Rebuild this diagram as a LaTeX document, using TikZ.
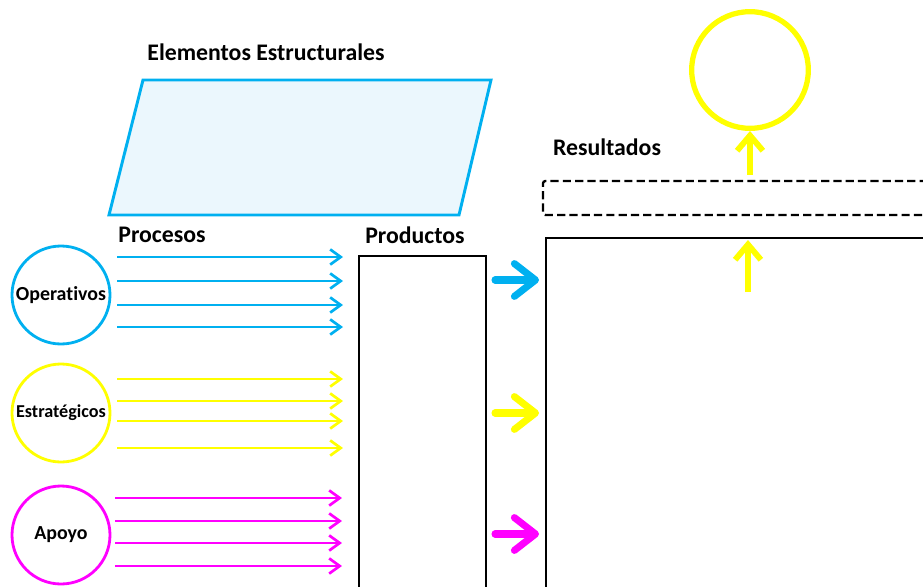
\documentclass[tikz,border=0pt]{standalone}
\usepackage{fontspec}
\setmainfont{Carlito}[Ligatures=NoCommon]
\usetikzlibrary{arrows.meta}
\definecolor{cianproc}{HTML}{00B0F0}
\definecolor{amarproc}{HTML}{FFFF00}
\definecolor{magproc}{HTML}{FF00FF}
\definecolor{fondoest}{HTML}{EBF7FD}

\begin{document}
\begin{tikzpicture}[x=0.03cm, y=-0.03cm,
		titulo/.style={font=\fontsize{20.3}{24}\selectfont\bfseries},
		circulo/.style={circle, draw, line width=2.4pt, minimum size=2.94cm, inner sep=0pt, font=\fontsize{17}{20}\selectfont\bfseries},
		flechita/.style={line width=2.3pt, -{Straight Barb[length=9pt,width=13pt]}},
		flechota/.style={line width=6pt, line cap=round, -{Straight Barb[round,length=18pt,width=28pt]}},
		flechaarriba/.style={line width=5pt, -{Straight Barb[length=13pt,width=22pt]}}]
			%%%%% START %%%%%
			\clip (0,0) rectangle (923,586);
			
			\node[titulo] (elementos) at (266,52) {Elementos Estructurales};
			\draw[cianproc, fill=fondoest, line width=2.5pt] (143,80) -- (491,80) -- (459,215) -- (109,215) -- cycle;
			
			\node[titulo] (procesos) at (162,235) {Procesos};
			\node[titulo] (productos) at (415,235) {Productos};
			\node[titulo] (resultados) at (607,147) {Resultados};
			
			\node[circulo, cianproc, text=black] (operativos) at (61,295) {Operativos};
			\node[circulo, amarproc, text=black, font=\fontsize{15.5}{18}\selectfont\bfseries] (estrategicos) at (61,413) {Estratégicos};
			\node[circulo, magproc, text=black] (apoyo) at (61,535) {Apoyo};
			
			\foreach \y [count=\i] in {257,281,305,327} {
				\coordinate (opA\i) at (117,\y);
				\coordinate (opB\i) at (343,\y);
				\draw[flechita, cianproc] (opA\i) -- (opB\i);
			}
			\foreach \y [count=\i] in {379,401,421,448} {
				\coordinate (esA\i) at (117,\y);
				\coordinate (esB\i) at (343,\y);
				\draw[flechita, amarproc] (esA\i) -- (esB\i);
			}
			\foreach \y [count=\i] in {498,521,543,566} {
				\coordinate (apA\i) at (115,\y);
				\coordinate (apB\i) at (342,\y);
				\draw[flechita, magproc] (apA\i) -- (apB\i);
			}
			
			\draw[line width=2pt] (359,600) -- (359,256) -- (486,256) -- (486,600);
			
			\coordinate (prodOp) at (495,280);
			\coordinate (resOp) at (539,280);
			\coordinate (prodEs) at (495,413);
			\coordinate (resEs) at (539,413);
			\coordinate (prodAp) at (495,534);
			\coordinate (resAp) at (539,534);
			\draw[flechota, cianproc] (prodOp) -- (resOp);
			\draw[flechota, amarproc] (prodEs) -- (resEs);
			\draw[flechota, magproc] (prodAp) -- (resAp);
			
			\draw[line width=2pt] (546,600) -- (546,238) -- (940,238);
			\draw[line width=2pt, dash pattern=on 7pt off 3.5pt, rounded corners=2pt] (940,181) -- (543,181) -- (543,215) -- (940,215);
			
			\node[circle, draw=amarproc, line width=4.5pt, minimum size=3.5cm] (meta) at (750,70) {};
			\coordinate (abajo1) at (748,292);
			\coordinate (arriba1) at (748,240);
			\coordinate (abajo2) at (750,175);
			\draw[flechaarriba, amarproc] (abajo1) -- (arriba1);
			\draw[flechaarriba, amarproc] (abajo2) -- (meta.south);
			
			%%%%% END %%%%%
		\end{tikzpicture}
\end{document}
